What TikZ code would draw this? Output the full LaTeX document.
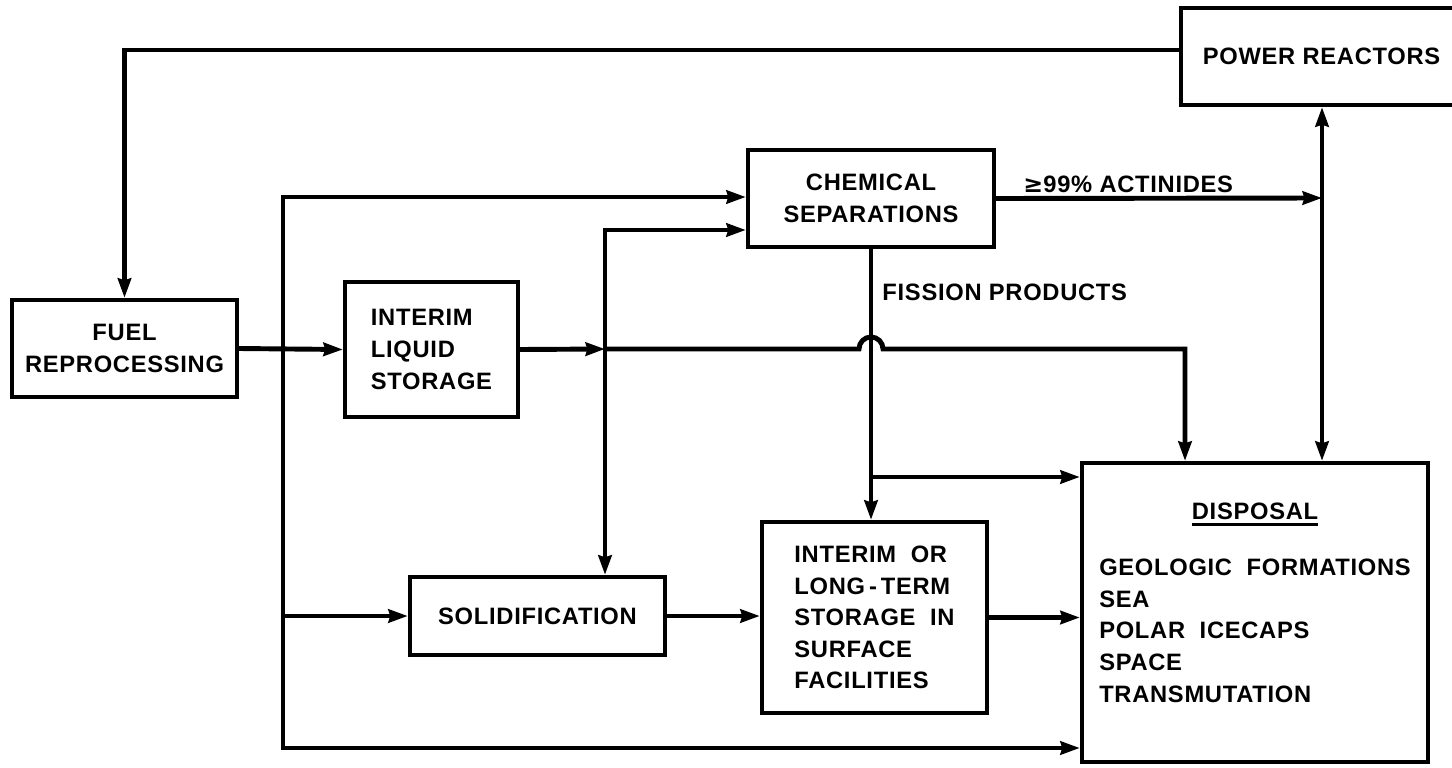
\documentclass[tikz,border=0pt]{standalone}
\usepackage{fontspec}
\setmainfont{Liberation Sans}[LetterSpace=3]
\newfontfamily\symfont{DejaVu Sans}
\usetikzlibrary{positioning,arrows.meta}
\newcommand\ulbar[1]{\setbox0\hbox{#1}\rlap{\rule[-4pt]{\wd0}{1.8pt}}\box0}

\begin{document}
\begin{tikzpicture}[x=0.02cm,y=-0.02cm,>={Stealth[length=11pt,width=7.5pt,inset=1pt]},line width=2.8pt,
  box/.style={draw,line width=2.5pt,align=center,inner sep=0pt,font=\bfseries\fontsize{13.5}{18}\selectfont},
  lbl/.style={inner sep=0pt,font=\bfseries\fontsize{13.5}{18}\selectfont}]
\useasboundingbox (0,0) rectangle (1452,767);
\node[box,minimum width=5.62cm,minimum height=1.94cm] (reactors) at (1321.5,56.5) {POWER REACTORS};
\node[box,minimum width=4.5cm,minimum height=1.94cm] (fuel) at (124.5,348.5) {FUEL\\REPROCESSING};
\node[box,align=left,minimum width=3.46cm,minimum height=2.7cm] (liquid) at (431.5,349.5) {INTERIM\\LIQUID\\STORAGE};
\node[box,minimum width=4.92cm,minimum height=1.94cm] (chem) at (871,198.5) {CHEMICAL\\SEPARATIONS};
\node[box,minimum width=5.1cm,minimum height=1.56cm] (solid) at (537.5,616) {SOLIDIFICATION};
\node[box,align=left,minimum width=4.5cm,minimum height=3.82cm] (storage) at (874.5,617.5) {INTERIM\ \ OR\\LONG\,-\,TERM\\STORAGE\ \ IN\\SURFACE\\FACILITIES};
\node[box,minimum width=6.92cm,minimum height=5.98cm] (disposal) at (1255,612.5) {};
\node[lbl,below=0.68cm of disposal.north] (dtext) {\begin{tabular}{@{}l@{}}\multicolumn{1}{@{}c@{}}{\ulbar{DISPOSAL}}\\[14pt]
  GEOLOGIC\ \ FORMATIONS\\SEA\\POLAR\ \ ICECAPS\\SPACE\\TRANSMUTATION\end{tabular}};
\node[lbl,anchor=base west] (act) at (1021,192) {{\symfont\bfseries ≥}99\% ACTINIDES};
\node[lbl,anchor=base west] (fiss) at (880,300) {FISSION PRODUCTS};

\coordinate (jn) at (605,349);
\coordinate (vt) at (605,230);
\coordinate (bt) at (283,197);
\coordinate (bb) at (283,748);
\coordinate (hop) at (859,349);
\coordinate (dn) at (1185,349);
\coordinate (fb) at (871,477);
\coordinate (ax) at (1322,198);

\draw[->] ([yshift=0.13cm]reactors.west) -| (fuel.north);
\draw[->] (fuel.east) -- (liquid.west);
\draw[->] (liquid.east) -- (jn);
\draw[->] (jn) -- (hop) arc[start angle=180,end angle=0,radius=0.24cm] -- (dn) -- (dn |- disposal.north);
\draw[<->] (vt -| chem.west) -- (vt) -- (vt |- solid.north);
\draw[<->] (bt -| chem.west) -- (bt) -- (bb) -- (bb -| disposal.west);
\draw[->] (bb |- solid.west) -- (solid.west);
\draw[->] (solid.east) -- (solid.east -| storage.west);
\draw[->] (storage.east) -- (storage.east -| disposal.west);
\draw[->] (chem.south) -- (chem.south |- storage.north);
\draw[->] (fb) -- (fb -| disposal.west);
\draw[->] (chem.east) -- (ax);
\draw[<->] (ax |- reactors.south) -- (ax |- disposal.north);
\end{tikzpicture}
\end{document}
